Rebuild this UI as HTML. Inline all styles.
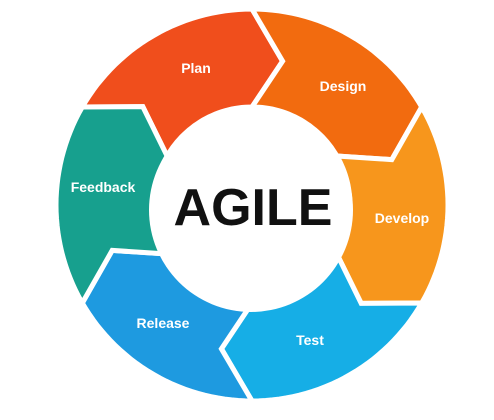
<!DOCTYPE html>
<html><head><style>html,body{margin:0;padding:0;background:#fff;width:494px;height:420px;overflow:hidden}</style></head>
<body>
<svg id="s" width="494" height="420" viewBox="0 0 494 420" xmlns="http://www.w3.org/2000/svg" font-family="Liberation Sans, sans-serif" font-weight="bold">
<g id="g"></g>
<circle cx="251" cy="210" r="102" fill="#fff"/>
<text x="253" y="225" font-size="52" text-anchor="middle" fill="#111">AGILE</text>
<g fill="#fff" font-size="14" text-anchor="middle">
<text x="196" y="73">Plan</text>
<text x="343" y="91">Design</text>
<text x="402" y="223">Develop</text>
<text x="310" y="345">Test</text>
<text x="163" y="328">Release</text>
<text x="103" y="192">Feedback</text>
</g>
</svg>
<script>
var cx=252,cy=205,R=196,r=98,rm=147,d=12;
var cols=["#f04e1c","#f26b0f","#f7961c","#16aee6","#1e9ae0","#17a08e"];
var starts=[-150,-90,-30,30,90,150];
function P(a,rad){a=a*Math.PI/180;return (cx+rad*Math.cos(a)).toFixed(1)+","+(cy+rad*Math.sin(a)).toFixed(1);}
var h="";
for(var i=0;i<6;i++){var a0=starts[i],a1=a0+60,pts=[];
for(var a=a0;a<=a1;a+=2)pts.push(P(a,R));
pts.push(P(a1+d,rm));
for(var a=a1;a>=a0;a-=2)pts.push(P(a,r));
pts.push(P(a0+d,rm));
h+='<polygon points="'+pts.join(" ")+'" fill="'+cols[i]+'" stroke="#fff" stroke-width="5" stroke-linejoin="miter"/>';}
document.getElementById("g").innerHTML=h;
</script>
</body></html>
